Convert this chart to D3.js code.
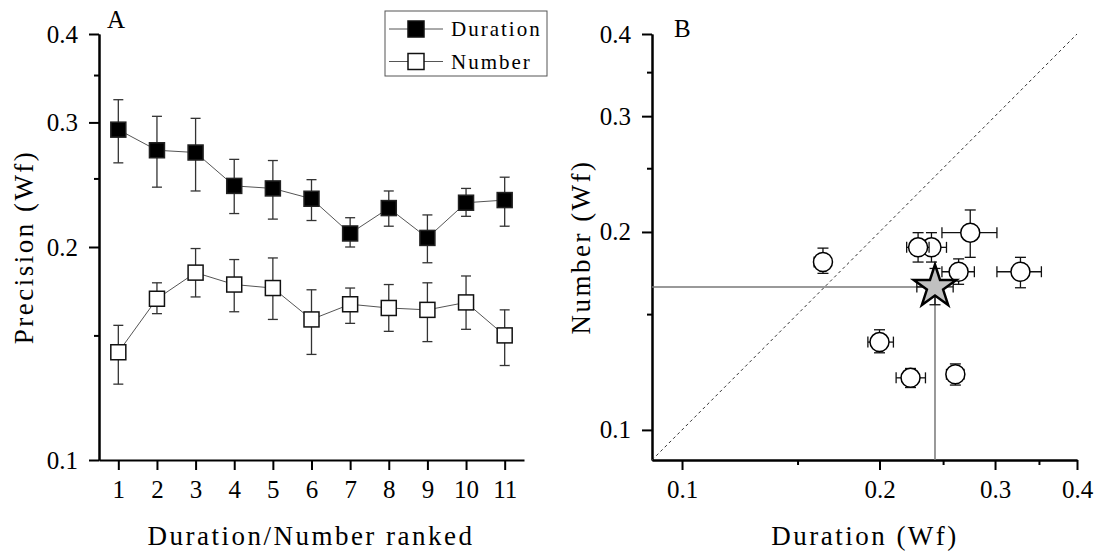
<!DOCTYPE html>
<html>
<head>
<meta charset="utf-8">
<script src="https://cdn.jsdelivr.net/npm/d3@7"></script>
<style>
  body { margin: 0; background: #fff; }
  text { font-family: "Liberation Serif", "Times New Roman", serif; fill: #000; }
  .axis path, .axis line { stroke: #000; stroke-width: 2; }
  .axis text { font-size: 25px; font-family: "Liberation Serif", serif; }
  .title { font-size: 27px; letter-spacing: 2.5px; }
</style>
</head>
<body>
<svg id="chart" width="1095" height="555"></svg>
<script>
// ---- panel A : precision per rank ----
const ranks = [1, 2, 3, 4, 5, 6, 7, 8, 9, 10, 11];
const durMean = [0.293, 0.274, 0.272, 0.244, 0.242, 0.234, 0.209, 0.227, 0.206, 0.231, 0.233];
const durUp   = [0.323, 0.306, 0.304, 0.266, 0.265, 0.249, 0.220, 0.240, 0.222, 0.242, 0.251];
const durLow  = [0.263, 0.243, 0.240, 0.223, 0.219, 0.218, 0.200, 0.214, 0.190, 0.221, 0.214];
const numMean = [0.142, 0.169, 0.184, 0.177, 0.175, 0.158, 0.166, 0.164, 0.163, 0.167, 0.150];
const numUp   = [0.155, 0.178, 0.199, 0.192, 0.193, 0.174, 0.175, 0.177, 0.178, 0.182, 0.163];
const numLow  = [0.128, 0.161, 0.170, 0.162, 0.158, 0.141, 0.156, 0.152, 0.147, 0.153, 0.136];

// ---- panel B : number vs duration per subject ----
const bDur    = [0.240, 0.229, 0.164, 0.275, 0.264, 0.328, 0.200, 0.223, 0.261];
const bDurLo  = [0.228, 0.220, 0.159, 0.249, 0.249, 0.302, 0.192, 0.212, 0.253];
const bDurHi  = [0.253, 0.238, 0.168, 0.302, 0.279, 0.353, 0.210, 0.235, 0.269];
const bNum    = [0.1895, 0.1895, 0.180, 0.1995, 0.174, 0.174, 0.136, 0.120, 0.1215];
const bNumLo  = [0.180, 0.180, 0.173, 0.183, 0.1665, 0.1645, 0.131, 0.116, 0.117];
const bNumHi  = [0.1995, 0.1995, 0.189, 0.216, 0.182, 0.183, 0.142, 0.124, 0.126];
// group mean (star)
const meanDur = [0.243], meanDurLo = [0.228], meanDurHi = [0.259];
const meanNum = [0.165], meanNumLo = [0.155], meanNumHi = [0.176];

const majorTicks = [0.1, 0.2, 0.3, 0.4];
const minorTicks = [0.15, 0.25, 0.35];
const legendLabels = ["Duration", "Number"];

const svg = d3.select("#chart");

// ================= PANEL A =================
const xA = d3.scaleLinear().domain([0.5, 11.5]).range([99, 524]);
const yA = d3.scaleLog().domain([0.1, 0.4]).range([460, 34]);

const gA = svg.append("g");

gA.append("g").attr("class", "axis").attr("transform", "translate(0,460)")
  .call(d3.axisBottom(xA).tickValues(ranks).tickSize(10).tickSizeOuter(0).tickPadding(10).tickFormat(d3.format("d")));
gA.append("g").attr("class", "axis").attr("transform", "translate(99,0)")
  .call(d3.axisLeft(yA).tickValues(majorTicks).tickSize(10).tickSizeOuter(0).tickPadding(11).tickFormat(d3.format(".1f")));
gA.append("g").attr("class", "axis").attr("transform", "translate(99,0)")
  .call(d3.axisLeft(yA).tickValues(minorTicks).tickSize(5).tickSizeOuter(0).tickFormat(""));

function seriesA(mean, up, low, filled) {
  const pts = ranks.map((r, i) => ({ r, m: mean[i], u: up[i], l: low[i] }));
  gA.append("path").datum(pts)
    .attr("fill", "none").attr("stroke", "#555").attr("stroke-width", 1)
    .attr("d", d3.line().x(d => xA(d.r)).y(d => yA(d.m)));
  const eb = gA.append("g").attr("stroke", "#333").attr("stroke-width", 1.3);
  pts.forEach(d => {
    eb.append("line").attr("x1", xA(d.r)).attr("x2", xA(d.r)).attr("y1", yA(d.l)).attr("y2", yA(d.u));
    eb.append("line").attr("x1", xA(d.r) - 5).attr("x2", xA(d.r) + 5).attr("y1", yA(d.u)).attr("y2", yA(d.u));
    eb.append("line").attr("x1", xA(d.r) - 5).attr("x2", xA(d.r) + 5).attr("y1", yA(d.l)).attr("y2", yA(d.l));
  });
  gA.selectAll(null).data(pts).enter().append("rect")
    .attr("x", d => xA(d.r) - 7.5).attr("y", d => yA(d.m) - 7.5)
    .attr("width", 15).attr("height", 15)
    .attr("fill", filled ? "#000" : "#fff")
    .attr("stroke", filled ? "#222" : "#111").attr("stroke-width", 1.5);
}
seriesA(durMean, durUp, durLow, true);
seriesA(numMean, numUp, numLow, false);

// legend
const lg = gA.append("g");
lg.append("rect").attr("x", 385).attr("y", 11).attr("width", 162).attr("height", 65)
  .attr("fill", "#fff").attr("stroke", "#555").attr("stroke-width", 1);
legendLabels.forEach((lab, i) => {
  const ly = 29 + i * 32.5;
  lg.append("line").attr("x1", 389).attr("x2", 443).attr("y1", ly).attr("y2", ly)
    .attr("stroke", "#555").attr("stroke-width", 1);
  lg.append("rect").attr("x", 408).attr("y", ly - 8).attr("width", 16).attr("height", 16)
    .attr("fill", i === 0 ? "#000" : "#fff").attr("stroke", "#111").attr("stroke-width", 1.5);
  lg.append("text").attr("x", 451).attr("y", ly + 7).text(lab)
    .style("font-size", "21px").style("letter-spacing", "2px");
});

gA.append("text").attr("x", 107).attr("y", 28).style("font-size", "25px").text("A");
gA.append("text").attr("class", "title").attr("x", 311).attr("y", 545)
  .attr("text-anchor", "middle").text("Duration/Number ranked");
gA.append("text").attr("class", "title")
  .attr("transform", "translate(33,247) rotate(-90)")
  .attr("text-anchor", "middle").text("Precision (Wf)");

// ================= PANEL B =================
const xB = d3.scaleLog().domain([0.09, 0.4]).range([652, 1077]);
const yB = d3.scaleLog().domain([0.09, 0.4]).range([460, 34]);
const gB = svg.append("g");

gB.append("g").attr("class", "axis").attr("transform", "translate(0,460)")
  .call(d3.axisBottom(xB).tickValues(majorTicks).tickSize(10).tickSizeOuter(0).tickPadding(10).tickFormat(d3.format(".1f")));
gB.append("g").attr("class", "axis").attr("transform", "translate(0,460)")
  .call(d3.axisBottom(xB).tickValues(minorTicks).tickSize(5).tickSizeOuter(0).tickFormat(""));
gB.append("g").attr("class", "axis").attr("transform", "translate(652,0)")
  .call(d3.axisLeft(yB).tickValues(majorTicks).tickSize(10).tickSizeOuter(0).tickPadding(11).tickFormat(d3.format(".1f")));
gB.append("g").attr("class", "axis").attr("transform", "translate(652,0)")
  .call(d3.axisLeft(yB).tickValues(minorTicks).tickSize(5).tickSizeOuter(0).tickFormat(""));

// identity line
const diag = xB.domain();
gB.append("line")
  .attr("x1", xB(diag[0])).attr("y1", yB(diag[0]))
  .attr("x2", xB(diag[1])).attr("y2", yB(diag[1]))
  .attr("stroke", "#333").attr("stroke-width", 1).attr("stroke-dasharray", "3,3");

// reference lines to the mean
gB.append("line").attr("x1", xB(0.09)).attr("x2", xB(meanDur[0]))
  .attr("y1", yB(meanNum[0])).attr("y2", yB(meanNum[0]))
  .attr("stroke", "#777").attr("stroke-width", 1.5);
gB.append("line").attr("x1", xB(meanDur[0])).attr("x2", xB(meanDur[0]))
  .attr("y1", yB(meanNum[0])).attr("y2", yB(0.09))
  .attr("stroke", "#777").attr("stroke-width", 1.5);

function crossBars(g, x, xl, xh, y, yl, yh) {
  const e = g.append("g").attr("stroke", "#111").attr("stroke-width", 1.3);
  e.append("line").attr("x1", xB(xl)).attr("x2", xB(xh)).attr("y1", yB(y)).attr("y2", yB(y));
  e.append("line").attr("x1", xB(x)).attr("x2", xB(x)).attr("y1", yB(yl)).attr("y2", yB(yh));
  [xl, xh].forEach(v => e.append("line").attr("x1", xB(v)).attr("x2", xB(v))
    .attr("y1", yB(y) - 5.5).attr("y2", yB(y) + 5.5));
  [yl, yh].forEach(v => e.append("line").attr("y1", yB(v)).attr("y2", yB(v))
    .attr("x1", xB(x) - 5.5).attr("x2", xB(x) + 5.5));
}

bDur.forEach((d, i) => {
  const g = gB.append("g");
  crossBars(g, d, bDurLo[i], bDurHi[i], bNum[i], bNumLo[i], bNumHi[i]);
  g.append("circle").attr("cx", xB(d)).attr("cy", yB(bNum[i])).attr("r", 9.5)
    .attr("fill", "#fff").attr("stroke", "#000").attr("stroke-width", 1.5);
});

const gs = gB.append("g");
crossBars(gs, meanDur[0], meanDurLo[0], meanDurHi[0], meanNum[0], meanNumLo[0], meanNumHi[0]);
gs.append("path")
  .attr("transform", `translate(${xB(meanDur[0])},${yB(meanNum[0])})`)
  .attr("d", d3.symbol(d3.symbolStar, 560)())
  .attr("fill", "#c0c0c0").attr("stroke", "#000").attr("stroke-width", 2.5)
  .attr("stroke-linejoin", "miter");

gB.append("text").attr("x", 674).attr("y", 37).style("font-size", "25px").text("B");
gB.append("text").attr("class", "title").attr("x", 865).attr("y", 545)
  .attr("text-anchor", "middle").text("Duration (Wf)");
gB.append("text").attr("class", "title")
  .attr("transform", "translate(590,247) rotate(-90)")
  .attr("text-anchor", "middle").text("Number (Wf)");
</script>
</body>
</html>
